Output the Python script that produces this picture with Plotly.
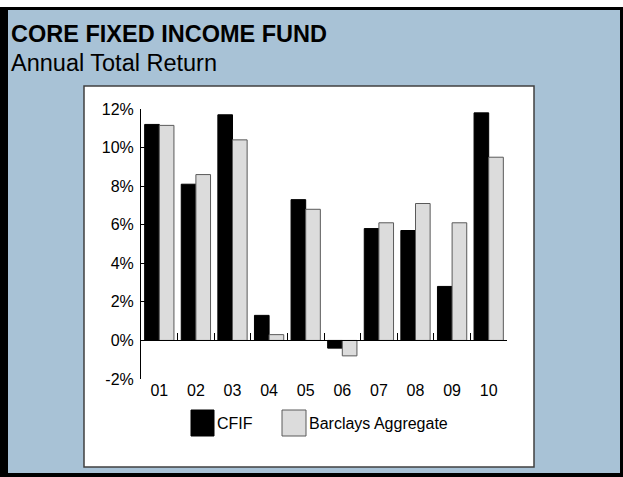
import plotly.graph_objects as go

# Données
annees = ["01", "02", "03", "04", "05", "06", "07", "08", "09", "10"]
cfif = [11.2, 8.1, 11.7, 1.3, 7.3, -0.4, 5.8, 5.7, 2.8, 11.8]
barclays = [11.15, 8.6, 10.4, 0.3, 6.8, -0.8, 6.1, 7.1, 6.1, 9.5]
ticks_y = [-2, 0, 2, 4, 6, 8, 10, 12]
labels_y = ["-2%", "0%", "2%", "4%", "6%", "8%", "10%", "12%"]

NOIR = "#000000"
GRIS = "#dcdcdc"
BORD_GRIS = "#5a5a5a"
BLEU = "#a8c2d6"
POLICE = "Liberation Sans, Arial, sans-serif"

W, H = 623, 477
L, R, T, B = 141, 116, 109, 98
PW, PH = W - L - R, H - T - B


def px(x):
    return (x - L) / PW


def py(y):
    return (H - B - y) / PH


def rect(x0, y0, x1, y1, fill, line=None, lw=0):
    return dict(type="rect", xref="paper", yref="paper", layer="below",
                x0=px(x0), x1=px(x1), y0=py(y0), y1=py(y1),
                fillcolor=fill, line=dict(color=line or fill, width=lw))


fig = go.Figure()
fig.add_trace(go.Bar(x=annees, y=cfif, name="CFIF",
                     marker=dict(color=NOIR, line=dict(color=NOIR, width=1))))
fig.add_trace(go.Bar(x=annees, y=barclays, name="Barclays Aggregate",
                     marker=dict(color=GRIS, line=dict(color=BORD_GRIS, width=1))))
# axe fantôme pour la ligne du zéro avec ses graduations
fig.add_trace(go.Scatter(x=[0], y=[0], xaxis="x2", mode="markers",
                         marker=dict(opacity=0), showlegend=False, hoverinfo="skip"))

ymin, ymax = ticks_y[0], ticks_y[-1]
n = len(annees)

shapes = [
    rect(0, 0, W, 7, "white"),
    rect(0, 7, W, H, NOIR),
    rect(8, 10, 620, 473, BLEU),
    rect(84, 86, 534, 467, "white", "#404040", 1.5),
    # légende
    rect(191, 410, 214, 436, NOIR, NOIR, 1),
    rect(282, 410, 306, 436, GRIS, BORD_GRIS, 1),
]

annotations = [
    dict(text="<b>CORE FIXED INCOME FUND</b>", x=px(9), y=py(34), xanchor="left",
         yanchor="middle", font=dict(size=23.5, color="black", family=POLICE)),
    dict(text="Annual Total Return", x=px(9), y=py(63), xanchor="left",
         yanchor="middle", font=dict(size=23.5, color="black", family=POLICE)),
    dict(text="CFIF", x=px(215), y=py(423), xanchor="left", yanchor="middle",
         font=dict(size=16, color="black", family=POLICE)),
    dict(text="Barclays Aggregate", x=px(307), y=py(423), xanchor="left",
         yanchor="middle", font=dict(size=16, color="black", family=POLICE)),
]
for a in annotations:
    a.update(xref="paper", yref="paper", showarrow=False)

fig.update_layout(
    width=W, height=H,
    margin=dict(l=L, r=R, t=T, b=B, pad=0),
    paper_bgcolor="white", plot_bgcolor="rgba(0,0,0,0)",
    barmode="group", bargap=0.2, bargroupgap=0,
    showlegend=False,
    font=dict(family=POLICE, size=16, color="black"),
    xaxis=dict(type="category", range=[-0.5, n - 0.5], showline=False, ticks="",
               showgrid=False, zeroline=False, tickfont=dict(size=16)),
    xaxis2=dict(overlaying="x", anchor="free", position=(0 - ymin) / (ymax - ymin),
                range=[-0.5, n - 0.5], tickvals=[i - 0.5 for i in range(n + 1)],
                ticks="inside", ticklen=7, tickcolor="black", showline=True,
                linecolor="black", linewidth=1, showticklabels=False,
                showgrid=False, zeroline=False),
    yaxis=dict(range=[ymin, ymax], tickmode="array", tickvals=ticks_y,
               ticktext=labels_y, ticks="inside", ticklen=8, tickcolor="black",
               showline=True, linecolor="black", linewidth=1, showgrid=False,
               zeroline=False, layer="below traces", ticklabelstandoff=3,
               tickfont=dict(size=16)),
    shapes=shapes,
    annotations=annotations,
)

fig.write_html("out.html", config={"displayModeBar": False},
               post_script="document.body.style.margin='0';")
